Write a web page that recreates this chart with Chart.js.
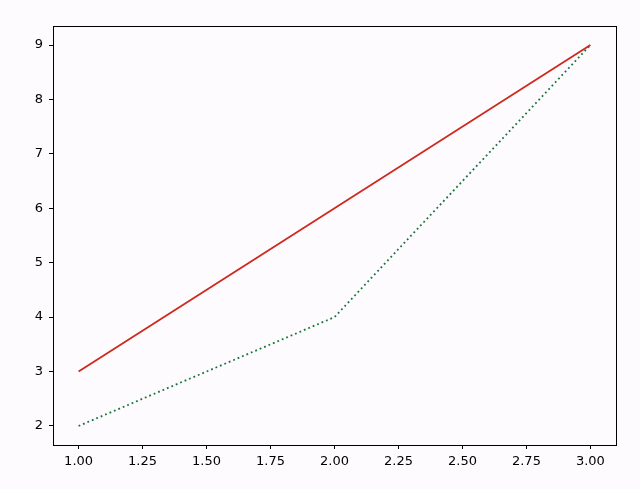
<!DOCTYPE html>
<html>
<head>
<meta charset="utf-8">
<script src="https://cdn.jsdelivr.net/npm/chart.js@4/dist/chart.umd.min.js"></script>
<style>
  html, body { margin: 0; padding: 0; background: #fdfbfd; }
  #wrap { width: 640px; height: 489px; }
</style>
</head>
<body>
<div id="wrap"><canvas id="grafico" width="640" height="489"></canvas></div>
<script>
// dados
const xValores = [1, 2, 3];
const linhaVermelha = [3, 6, 9];
const linhaVerde = [2, 4, 9];
const xTicks = [1.0, 1.25, 1.5, 1.75, 2.0, 2.25, 2.5, 2.75, 3.0];
const yTicks = [2, 3, 4, 5, 6, 7, 8, 9];

const pontos = (ys) => xValores.map((x, i) => ({ x, y: ys[i] }));

// moldura em volta da area do grafico (estilo matplotlib)
const moldura = {
  id: "moldura",
  afterDraw(chart) {
    const { ctx, chartArea: a } = chart;
    ctx.save();
    ctx.strokeStyle = "#000";
    ctx.lineWidth = 1;
    ctx.strokeRect(a.left + 0.5, a.top + 0.5, a.right - a.left, a.bottom - a.top);
    ctx.restore();
  }
};

const fonte = { family: "'DejaVu Sans', sans-serif", size: 13 };

new Chart(document.getElementById("grafico").getContext("2d"), {
  type: "line",
  data: {
    datasets: [
      {
        data: pontos(linhaVermelha),
        borderColor: "#cc2a1c",
        borderWidth: 1.8,
        pointRadius: 0,
        tension: 0
      },
      {
        data: pontos(linhaVerde),
        borderColor: "#16753a",
        borderWidth: 1.8,
        borderDash: [1.8, 3],
        pointRadius: 0,
        tension: 0
      }
    ]
  },
  options: {
    responsive: false,
    animation: false,
    layout: { padding: { top: 26, right: 24, bottom: 0, left: 0 } },
    plugins: { legend: { display: false }, tooltip: { enabled: false } },
    scales: {
      x: {
        type: "linear",
        min: 0.9,
        max: 3.1,
        afterBuildTicks: (s) => { s.ticks = xTicks.map(v => ({ value: v })); },
        afterFit: (s) => { s.height = 44; },
        grid: { drawOnChartArea: false, drawTicks: true, tickLength: 4, color: "#000" },
        border: { display: true, color: "#000" },
        ticks: {
          color: "#000",
          font: fonte,
          padding: 5,
          maxRotation: 0,
          autoSkip: false,
          callback: (v) => Number(v).toFixed(2)
        }
      },
      y: {
        type: "linear",
        min: 1.65,
        max: 9.35,
        afterBuildTicks: (s) => { s.ticks = yTicks.map(v => ({ value: v })); },
        afterFit: (s) => { s.width = 53; },
        grid: { drawOnChartArea: false, drawTicks: true, tickLength: 4, color: "#000" },
        border: { display: true, color: "#000" },
        ticks: {
          color: "#000",
          font: fonte,
          padding: 6,
          autoSkip: false,
          callback: (v) => String(v)
        }
      }
    }
  },
  plugins: [moldura]
});
</script>
</body>
</html>
